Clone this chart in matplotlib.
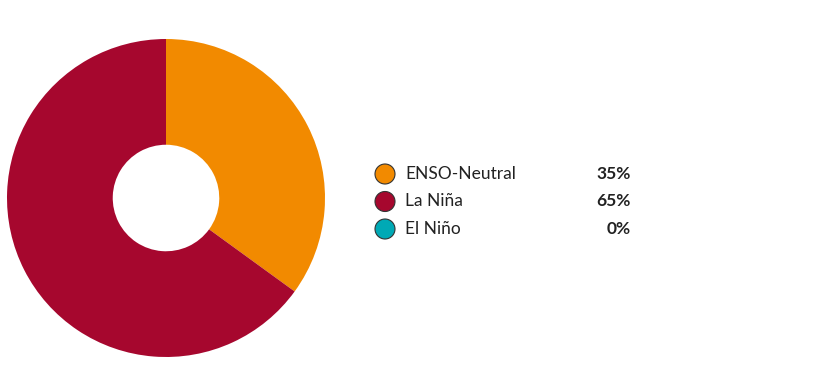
import matplotlib
matplotlib.use("Agg")
import matplotlib.pyplot as plt
from matplotlib.patches import Circle

categories = ["ENSO-Neutral", "La Niña", "El Niño"]
values = [35, 65, 0]
colors = ["#F28A00", "#A6072E", "#00A9B5"]
pct_labels = ["35%", "65%", "0%"]

plt.rcParams['font.family'] = ['Lato', 'DejaVu Sans']

W, H = 816, 388
fig = plt.figure(figsize=(W / 100, H / 100), dpi=100)

# pie axes: center (166,198) px from top, radius ~159
cx, cy, r = 166, 198, 159
ax = fig.add_axes([(cx - r) / W, (H - cy - r) / H, 2 * r / W, 2 * r / H])
ax.pie(values, colors=colors, startangle=90, counterclock=False,
       radius=1.0, wedgeprops=dict(width=0.665, linewidth=0))
ax.set_xlim(-1, 1)
ax.set_ylim(-1, 1)
ax.set_aspect('equal')
ax.axis('off')

# legend overlay
lax = fig.add_axes([0, 0, 1, 1])
lax.set_xlim(0, W)
lax.set_ylim(H, 0)
lax.axis('off')
y0, dy = 174, 27.5
for i, (cat, col, pl) in enumerate(zip(categories, colors, pct_labels)):
    y = y0 + i * dy
    lax.add_patch(Circle((385, y), 10, facecolor=col, edgecolor="#333333", linewidth=0.8))
    lax.text(405, y, cat, fontsize=12.5, va='center', ha='left', color="#222222")
    lax.text(631, y, pl, fontsize=12.5, va='center', ha='right', color="#222222", fontweight='bold')

fig.savefig("out.png", dpi=100)
